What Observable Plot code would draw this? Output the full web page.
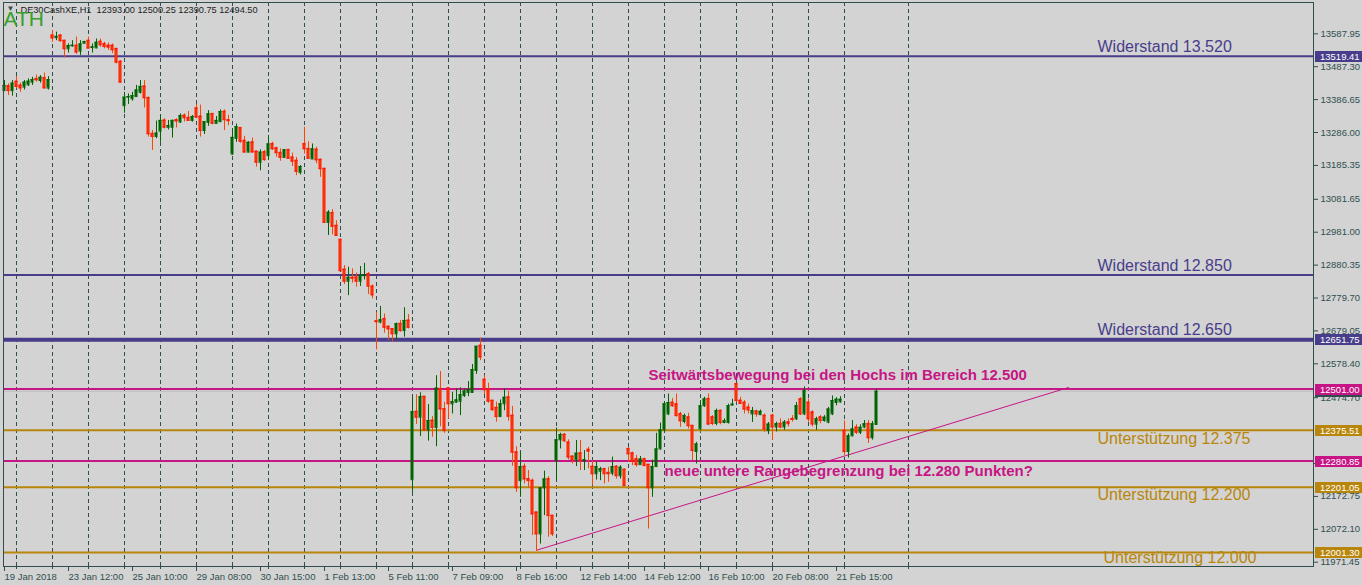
<!DOCTYPE html>
<html><head><meta charset="utf-8">
<script src="https://cdn.jsdelivr.net/npm/d3@7"></script>
<script src="https://cdn.jsdelivr.net/npm/@observablehq/plot@0.6"></script>
<style>
html,body{margin:0;padding:0;background:#d3d3d3;overflow:hidden}
#chart{width:1362px;height:585px}
</style></head><body><div id="chart"></div>
<script>
// ---- candle data (H1 bars, index = bar number) ----
const open = [13414,13428,13414,13442,13430,13425,13432,13440,13450,13445,13453,13422,
13583,13576,13583,13567,13542,13551,13552,13535,13559,13567,13546,13545,13564,13557,13552,13552,13542,13503,
13368,13394,13389,13396,13409,13427,13392,13282,13274,13290,13323,13302,13302,13324,13318,13338,13331,13323,13360,13335,
13292,13317,13343,13314,13319,13350,13324,13220,13268,13300,13261,13226,13256,13228,13195,13226,13215,13251,13238,13224,
13210,13233,13210,13200,13164,13251,13236,13205,13234,13203,13175,13011,13040,13001,12958,12867,12831,12842,12843,12831,
12848,12853,12815,12709,12706,12716,12692,12685,12670,12701,12680,12711,12224,12432,12415,12478,12376,12405,12384,12502,
12440,12504,12456,12461,12464,12481,12491,12491,12558,12634,12530,12499,12466,12444,12417,12456,12476,12420,12308,12221,
12264,12226,12221,12124,12058,12199,12226,12114,12282,12346,12362,12338,12295,12284,12305,12282,12316,12264,12242,12250,
12257,12245,12244,12264,12236,12255,12318,12305,12287,12270,12287,12270,12199,12264,12318,12376,12425,12460,12455,12425,
12402,12415,12389,12310,12379,12450,12471,12415,12396,12435,12399,12399,12452,12517,12466,12460,12445,12425,12433,12423,
12420,12374,12420,12385,12395,12385,12400,12410,12410,12470,12425,12460,12430,12394,12415,12405,12400,12425,12460,12462,
12374,12310,12358,12384,12369,12385,12395,12352,12393];
const high = [13445,13435,13445,13457,13437,13445,13450,13455,13462,13460,13468,13457,
13598,13593,13586,13568,13557,13567,13578,13567,13565,13578,13557,13572,13572,13562,13560,13557,13542,13506,
13409,13404,13409,13430,13445,13445,13394,13292,13321,13338,13328,13323,13324,13328,13343,13343,13350,13338,13372,13370,
13319,13353,13343,13335,13355,13355,13338,13297,13312,13300,13274,13258,13269,13228,13233,13231,13277,13256,13241,13236,
13233,13233,13223,13210,13185,13302,13258,13251,13241,13205,13177,13047,13050,13016,12960,12879,12874,12869,12856,12876,
12886,12858,12820,12736,12754,12731,12695,12685,12703,12711,12750,12729,12476,12484,12490,12478,12454,12417,12542,12555,
12461,12504,12491,12502,12505,12502,12524,12576,12632,12657,12542,12519,12466,12461,12468,12502,12495,12448,12325,12308,
12272,12252,12226,12124,12199,12250,12233,12114,12382,12366,12364,12346,12298,12344,12344,12313,12323,12282,12279,12262,
12257,12262,12293,12267,12267,12257,12323,12308,12298,12295,12290,12270,12284,12366,12397,12460,12486,12472,12486,12430,
12425,12427,12389,12338,12466,12476,12486,12420,12440,12437,12410,12455,12470,12517,12476,12466,12455,12445,12437,12437,
12425,12399,12425,12400,12410,12405,12410,12420,12460,12475,12508,12470,12435,12415,12420,12420,12445,12480,12475,12478,
12404,12364,12405,12392,12392,12405,12405,12402,12500.25];
const low = [13412,13399,13397,13420,13409,13416,13427,13430,13440,13437,13420,13416,
13562,13567,13562,13514,13529,13547,13525,13522,13558,13542,13529,13542,13547,13542,13537,13527,13496,13437,
13345,13372,13382,13394,13404,13361,13272,13231,13267,13256,13297,13294,13269,13300,13314,13318,13321,13318,13328,13272,
13280,13305,13310,13312,13317,13292,13307,13217,13256,13253,13223,13224,13224,13180,13169,13198,13200,13231,13210,13198,
13207,13205,13182,13154,13156,13220,13205,13203,13190,13149,13009,12971,12973,12969,12861,12821,12787,12825,12813,12815,
12835,12790,12777,12621,12701,12672,12650,12644,12652,12675,12660,12685,12185,12393,12356,12374,12342,12354,12325,12386,
12366,12410,12425,12458,12420,12476,12478,12488,12546,12588,12484,12458,12433,12400,12415,12435,12403,12265,12185,12170,
12211,12199,12053,12005,12027,12114,12048,12050,12221,12318,12338,12284,12272,12264,12252,12252,12257,12206,12223,12221,
12211,12216,12236,12226,12226,12203,12277,12267,12262,12270,12264,12073,12170,12262,12315,12369,12420,12445,12415,12384,
12395,12379,12282,12272,12376,12445,12389,12389,12389,12392,12395,12394,12450,12460,12455,12425,12425,12399,12415,12420,
12369,12362,12345,12370,12380,12375,12385,12400,12405,12420,12420,12400,12385,12375,12395,12400,12395,12420,12450,12458,
12298,12290,12355,12362,12362,12380,12335,12345,12390.75];
const close = [13430,13414,13437,13427,13422,13440,13443,13448,13447,13455,13422,13448,
13575,13580,13567,13542,13552,13553,13532,13557,13564,13544,13548,13562,13554,13549,13547,13539,13501,13440,
13394,13396,13399,13416,13427,13392,13282,13274,13284,13323,13302,13307,13323,13321,13338,13331,13323,13335,13333,13292,
13319,13343,13314,13323,13350,13325,13322,13271,13304,13259,13226,13256,13226,13195,13226,13203,13251,13236,13224,13210,
13233,13207,13198,13167,13182,13236,13207,13236,13202,13175,13011,13042,12999,12971,12863,12831,12843,12840,12831,12848,
12851,12816,12789,12707,12713,12690,12685,12670,12701,12680,12711,12690,12432,12415,12478,12376,12405,12384,12504,12440,
12374,12456,12463,12468,12484,12495,12499,12561,12632,12599,12499,12464,12438,12417,12456,12476,12418,12308,12199,12264,
12226,12221,12119,12058,12199,12226,12114,12058,12346,12362,12343,12293,12284,12305,12284,12285,12311,12242,12264,12257,
12242,12242,12264,12236,12262,12206,12303,12280,12270,12287,12267,12199,12264,12318,12376,12456,12460,12450,12420,12404,
12420,12389,12313,12333,12450,12471,12394,12396,12435,12399,12404,12450,12455,12466,12457,12440,12437,12435,12425,12433,
12379,12394,12385,12395,12385,12400,12395,12408,12450,12425,12496,12410,12394,12410,12405,12415,12440,12466,12470,12470,
12310,12358,12379,12369,12384,12395,12352,12395,12494.5];

// ---- time axis ----
const xTickIdx = [0,16,32,48,64,80,96,112,128,144,160,176,192,208];
const xTickLabels = ["19 Jan 2018","23 Jan 12:00","25 Jan 10:00","29 Jan 08:00","30 Jan 15:00","1 Feb 13:00","5 Feb 11:00","7 Feb 09:00","8 Feb 16:00","12 Feb 14:00","14 Feb 12:00","16 Feb 10:00","20 Feb 08:00","21 Feb 15:00"];
const daySeparators = [3,12,21,30,39,48,57,66,75,84,93,102,111,120,129,138,147,156,165,174,183,192,201,210,226];

// ---- price axis (12374.05 lies fully under a price tag and is left out) ----
const yTicks = [13587.95,13487.30,13386.65,13286.00,13185.35,13081.65,12981.00,12880.35,12779.70,12679.05,12578.40,12474.70,12273.40,12172.75,12072.10,11971.45];

// ---- horizontal levels ----
const levelValues = [13519.41,12850.00,12651.75,12501.00,12375.51,12280.85,12201.05,12001.30];
const levelColors = ["#483D8B","#483D8B","#483D8B","#C71585","#B8860B","#C71585","#B8860B","#B8860B"];
const levelWidths = [2,2,4,2,2,2,2,2];
const tagValues = [13519.41,12651.75,12501.00,12375.51,12280.85,12201.05,12001.30];
const tagColors = ["#483D8B","#483D8B","#C71585","#B8860B","#C71585","#B8860B","#B8860B"];
const bidPrice = 12494.50;

// ---- text annotations (bar index, price) ----
const noteTexts = ["Widerstand 13.520","Widerstand 12.850","Widerstand 12.650","Unterstützung 12.375","Unterstützung 12.200","Unterstützung 12.000"];
const noteX = [273.25,273.25,273.25,273.25,273.25,274.75];
const noteY = [13549,12879,12683,12350,12176,11986];
const noteColors = ["#483D8B","#483D8B","#483D8B","#B8860B","#B8860B","#B8860B"];
const boldTexts = ["Seitwärtsbewegung bei den Hochs im Bereich 12.500","neue untere Rangebegrenzung bei 12.280 Punkten?"];
const boldX = [161,165];
const boldY = [12543,12249];
const trendX = [133,266];
const trendY = [12008,12506];
const titleText = "DE30CashXE,H1  12393.00 12500.25 12390.75 12494.50";

const UP = "#006400", DOWN = "#FF4500", DOWN_EDGE = "#FF1A00", INK = "#2F4F4F";
const FONT = "'Liberation Sans', Arial, sans-serif";

const bars = open.map((o, i) => ({i, o, h: high[i], l: low[i], c: close[i], up: close[i] >= o}));
const levels = levelValues.map((v, k) => ({v, color: levelColors[k], w: levelWidths[k]}));
const notes = noteTexts.map((t, k) => ({t, x: noteX[k], y: noteY[k], color: noteColors[k]}));
const bolds = boldTexts.map((t, k) => ({t, x: boldX[k], y: boldY[k]}));
const trend = trendX.map((x, k) => ({x, y: trendY[k]}));

const plot = Plot.plot({
  width: 1362, height: 585,
  marginLeft: 3, marginRight: 49, marginTop: 2, marginBottom: 19,
  x: {domain: [-0.25, 327.25]},
  y: {domain: [11958.4, 13683.7]},
  style: {background: "#d3d3d3", fontFamily: FONT, fontSize: "9.5px", color: INK},
  marks: [
    Plot.ruleX(daySeparators, {stroke: INK, strokeDasharray: "4,3", strokeWidth: 1}),
    Plot.ruleY([bidPrice], {stroke: "#bdbdbd", strokeWidth: 1}),
    ...levels.map(l => Plot.ruleY([l.v], {stroke: l.color, strokeWidth: l.w})),
    Plot.line(trend, {x: "x", y: "y", stroke: "#C71585", strokeWidth: 1}),
    Plot.ruleX(bars, {x: "i", y1: "l", y2: "h", stroke: d => d.up ? UP : DOWN, strokeWidth: 1}),
    Plot.rect(bars.filter(d => d.up), {x1: d => d.i - 0.375, x2: d => d.i + 0.375, y1: "o", y2: "c", fill: UP}),
    Plot.rect(bars.filter(d => !d.up), {x1: d => d.i - 0.25, x2: d => d.i + 0.25, y1: "o", y2: "c", fill: DOWN, stroke: DOWN_EDGE, strokeWidth: 1}),
    Plot.ruleY(bars, {y: "c", x1: d => d.i - 0.375, x2: d => d.i + 0.375, stroke: d => d.up ? UP : DOWN_EDGE, strokeWidth: 1}),
    Plot.ruleY(bars, {y: "o", x1: d => d.i - 0.375, x2: d => d.i + 0.375, stroke: d => d.up ? UP : DOWN_EDGE, strokeWidth: 1}),
    Plot.text(notes, {x: "x", y: "y", text: "t", fill: "color", fontSize: 16, textAnchor: "start", lineAnchor: "middle", clip: "frame"}),
    Plot.text(bolds, {x: "x", y: "y", text: "t", fill: "#C71585", fontSize: 15, fontWeight: "bold", textAnchor: "start", lineAnchor: "middle"}),
    Plot.frame({stroke: INK}),
    Plot.axisY(yTicks, {anchor: "right", tickSize: 4, tickPadding: 3, tickFormat: d => d.toFixed(2), fill: INK, stroke: INK}),
    Plot.axisX(xTickIdx, {anchor: "bottom", tickSize: 5, tickPadding: 2, textAnchor: "start", tickFormat: d => xTickLabels[xTickIdx.indexOf(d)], fill: INK, stroke: INK}),
    Plot.axisX(daySeparators, {anchor: "bottom", tickSize: 3, tickFormat: () => "", stroke: INK}),
    Plot.text([titleText], {frameAnchor: "top-left", dx: 17, dy: 4, textAnchor: "start", lineAnchor: "top", fontSize: 9.2, fill: "#222"}),
    Plot.text(["ATH"], {frameAnchor: "top-left", dx: 0, dy: 9, textAnchor: "start", lineAnchor: "top", fontSize: 21, fill: "#35a02a"}),
    Plot.text(["▼"], {frameAnchor: "top-left", dx: 3, dy: 3, textAnchor: "start", lineAnchor: "top", fontSize: 8, fill: "#3c4c4c"})
  ]
});
document.getElementById("chart").appendChild(plot);

// price tags on the right axis, positioned through the plot's y scale
const ys = plot.scale("y");
const g = d3.select(plot).append("g")
  .attr("font-family", FONT).attr("font-size", "9.5px").attr("text-anchor", "start");
// bid marker: only its edge shows below the 12501.00 tag
const bidY = Math.round(ys.apply(bidPrice));
g.append("rect").attr("x", 1315).attr("y", bidY - 5).attr("width", 47).attr("height", 11).attr("fill", INK);
for (let k = 0; k < tagValues.length; k++) {
  const py = Math.round(ys.apply(tagValues[k]));
  g.append("rect").attr("x", 1315).attr("y", py - 5).attr("width", 47).attr("height", 11).attr("fill", tagColors[k]);
  g.append("text").attr("x", 1320).attr("y", py + 0.5).attr("dy", "0.35em")
    .attr("text-anchor", "start").attr("fill", "#ffffff").text(tagValues[k].toFixed(2));
}
</script></body></html>
